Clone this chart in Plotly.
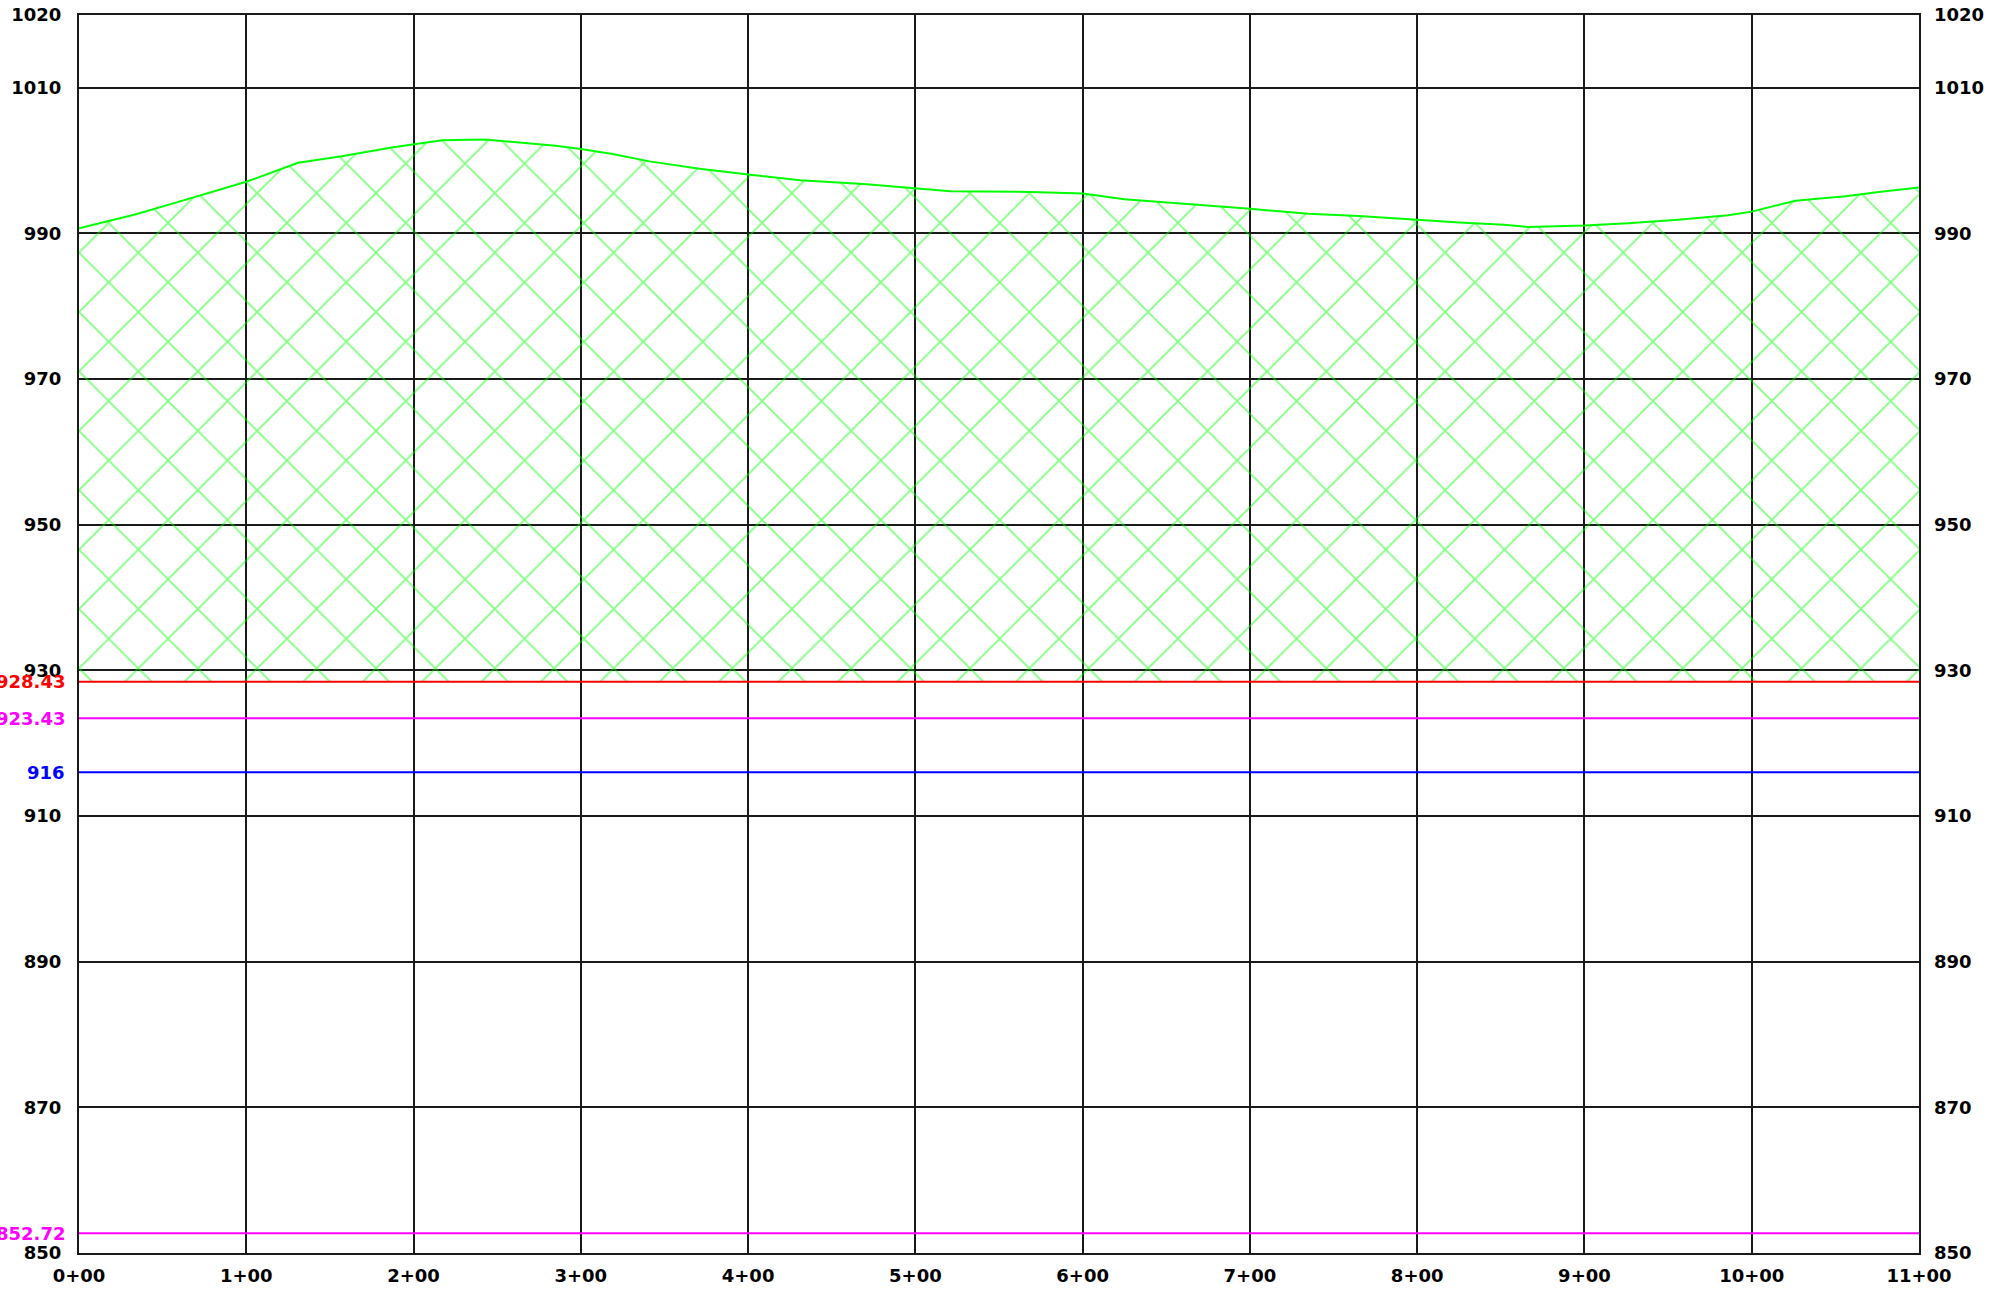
import plotly.graph_objects as go

# ---- data ----
stations = [0.0, 0.335, 0.574, 1.0, 1.31, 1.57, 1.87, 2.0, 2.17, 2.43, 2.73, 2.85,
            3.0, 3.19, 3.41, 3.71, 4.0, 4.31, 4.69, 5.0, 5.21, 5.69,
            6.0, 6.25, 6.55, 7.0, 7.35, 7.65, 8.0, 8.25, 8.52, 8.66,
            9.0, 9.26, 9.56, 9.86, 10.0, 10.26, 10.56, 10.76, 11.0]
ground_elev = [990.7, 992.6, 994.2, 997.1, 999.7, 1000.6, 1001.8, 1002.2, 1002.8, 1002.9, 1002.3, 1002.05,
               1001.6, 1000.9, 999.9, 998.9, 998.1, 997.3, 996.8, 996.2, 995.8, 995.7,
               995.5, 994.7, 994.2, 993.4, 992.7, 992.4, 991.9, 991.5, 991.2, 990.9,
               991.1, 991.4, 991.9, 992.5, 993.0, 994.5, 995.1, 995.7, 996.3]

level_values = [928.43, 923.43, 916, 852.72]
level_labels = ["928.43", "923.43", "916", "852.72"]
level_colors = ["#ff0000", "#ff00ff", "#0000ff", "#ff00ff"]

y_ticks = [850, 870, 890, 910, 930, 950, 970, 990, 1010, 1020]
x_ticks = list(range(0, 12))
x_tick_labels = ["%d+00" % i for i in x_ticks]

x_min, x_max = 0, 11
y_min, y_max = 850, 1020
fill_bottom = level_values[0]

FONT = dict(family="DejaVu Sans", size=18, color="black", weight="bold")

fig = go.Figure()

# baseline for hatch fill
fig.add_trace(go.Scatter(x=[x_min, x_max], y=[fill_bottom, fill_bottom], mode="lines",
                         line=dict(width=0, color="rgba(0,0,0,0)"), hoverinfo="skip",
                         showlegend=False))
# ground profile with hatch
fig.add_trace(go.Scatter(x=stations, y=ground_elev, mode="lines",
                         line=dict(color="#00ff00", width=2),
                         fill="tonexty", fillcolor="rgba(0,0,0,0)",
                         fillpattern=dict(shape="x", size=42, solidity=0.08,
                                          fgcolor="#00ff00", bgcolor="rgba(0,0,0,0)",
                                          fillmode="overlay"),
                         showlegend=False))

# reference level lines
for val, col in zip(level_values, level_colors):
    fig.add_trace(go.Scatter(x=[x_min, x_max], y=[val, val], mode="lines",
                             line=dict(color=col, width=2), showlegend=False))

# colored labels on left
for val, lab, col in zip(level_values, level_labels, level_colors):
    fig.add_annotation(x=0, xref="paper", y=val, yref="y", text=lab, showarrow=False,
                       xanchor="right", yanchor="middle", xshift=-12,
                       font=dict(family="DejaVu Sans", size=18, color=col, weight="bold"))

# invisible trace on right axis
fig.add_trace(go.Scatter(x=[x_min], y=[y_min], yaxis="y2", mode="markers",
                         marker=dict(opacity=0), hoverinfo="skip", showlegend=False))

axis_common = dict(showgrid=True, gridcolor="#1a1a1a", gridwidth=2, zeroline=False,
                   showline=True, linecolor="#1a1a1a", linewidth=2, ticks="",
                   tickfont=FONT, automargin=False)

fig.update_layout(
    width=1989, height=1293,
    margin=dict(l=79, r=70, t=15, b=40, autoexpand=False),
    paper_bgcolor="white", plot_bgcolor="white",
    xaxis=dict(range=[x_min, x_max], tickvals=x_ticks, ticktext=x_tick_labels,
               mirror=True, ticklabelstandoff=5, **axis_common),
    yaxis=dict(range=[y_min, y_max], tickvals=y_ticks, ticktext=[str(v) for v in y_ticks],
               mirror=True, ticklabelstandoff=12, **axis_common),
    yaxis2=dict(range=[y_min, y_max], tickvals=y_ticks, ticktext=[str(v) for v in y_ticks],
                overlaying="y", side="right", showgrid=False, zeroline=False,
                showline=False, ticks="", tickfont=FONT, ticklabelstandoff=14,
                automargin=False),
)

fig.write_html("out.html", config={"displayModeBar": False},
               post_script="document.body.style.margin='0';document.body.style.overflow='hidden';")
